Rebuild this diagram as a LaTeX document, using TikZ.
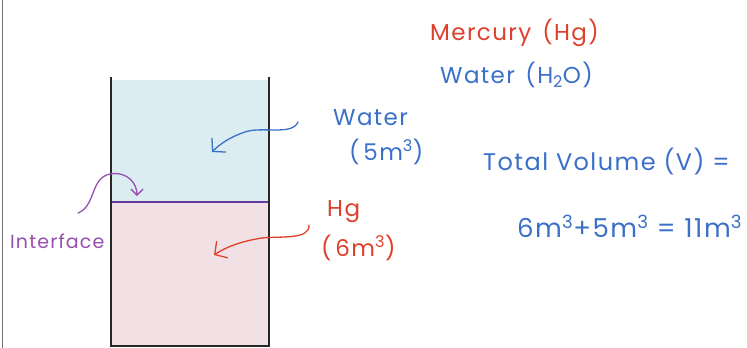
\documentclass[tikz,border=0pt]{standalone}
\usepackage{fontspec}
\setmainfont{Poppins}
\newfontfamily\inkfont[LetterSpace=6]{Poppins}
\usetikzlibrary{arrows.meta}

\definecolor{inkred}{RGB}{222,64,44}
\definecolor{inkblue}{RGB}{58,112,200}
\definecolor{inkpurple}{RGB}{150,80,175}
\definecolor{linepurple}{RGB}{96,62,160}
\definecolor{waterfill}{RGB}{220,237,242}
\definecolor{hgfill}{RGB}{241,224,228}

\tikzset{
  label/.style={inner sep=0pt, anchor=west, font=\inkfont\fontsize{23}{25}\selectfont},
  big/.style={font=\inkfont\fontsize{26}{28}\selectfont},
  wall/.style={line width=1.6pt, black!85},
  pointer/.style={line width=1.3pt, line cap=round,
    -{Straight Barb[length=9pt,width=20pt,line width=1.3pt]}},
}

\begin{document}
\begin{tikzpicture}[x=1pt,y=-1pt]
\useasboundingbox (0,0) rectangle (747,348);
\fill[white] (0,0) rectangle (747,348);
\draw[black!55, line width=1pt] (2,0) -- (2,348);

% liquids in the container
\fill[waterfill] (111,80) rectangle (269,202);
\fill[hgfill] (111,202) rectangle (269,347);
\draw[linepurple, line width=1.6pt] (111,202) -- (269,202);
\draw[wall] (111,77) -- (111,346) -- (269,346) -- (269,77);

% targets of the pointers
\coordinate (watertip) at (212,152);
\coordinate (hgtip) at (214,255);
\coordinate (ifacetip) at (137,196);

% labels
\node[label, text=inkred] (mercury) at (430,33) {Mercury\hspace{11pt}(Hg)};
\node[label, text=inkblue] (water) at (440,75) {Water\hspace{3pt} (H\textsubscript{2}O)};
\node[label, text=inkblue] (wlabel) at (333,118) {Water};
\node[label, text=inkblue] (wvol) at (349,152) {(\,5m\textsuperscript{3})};
\node[label, text=inkred] (hglabel) at (327,212) {Hg};
\node[label, text=inkred] (hgvol) at (321,248) {(\,6m\textsuperscript{3})};
\node[label, text=inkpurple, font=\inkfont\fontsize{19}{21}\selectfont] (iface) at (10,241) {Interface};
\node[label, text=inkblue, font=\inkfont\fontsize{24}{26}\selectfont] (total) at (483,162) {Total Volume (V) =};
\node[label, big, text=inkblue] (sum) at (517,226) {6m\textsuperscript{3}+5m\textsuperscript{3} = 11m\textsuperscript{3}};

% pointers
\draw[pointer, inkblue] (298,122) .. controls (292,136) and (262,126) .. (245,132)
  .. controls (230,137) and (220,144) .. (watertip);
\draw[pointer, inkred] (309,225) .. controls (310,240) and (280,236) .. (262,238)
  .. controls (242,241) and (226,247) .. (hgtip);
\draw[pointer, inkpurple, -{Straight Barb[length=6pt,width=12pt,line width=1.3pt]}]
  (78,213) .. controls (96,206) and (90,178) .. (110,174)
  .. controls (128,171) and (137,184) .. (ifacetip);
\end{tikzpicture}
\end{document}
